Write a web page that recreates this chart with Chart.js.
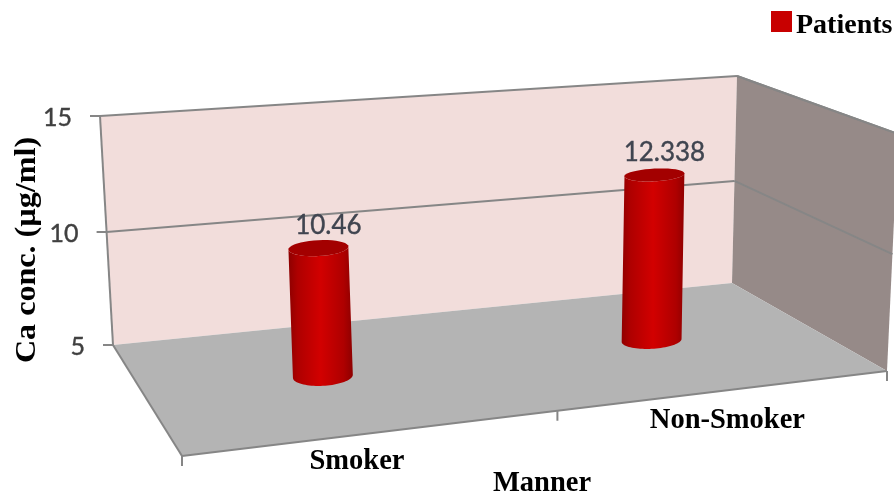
<!DOCTYPE html>
<html>
<head>
<meta charset="utf-8">
<title>Ca conc.</title>
<script src="https://cdn.jsdelivr.net/npm/chart.js@4"></script>
<style>
  html, body { margin: 0; padding: 0; background: #fff; }
  canvas { display: block; }
</style>
</head>
<body>
<canvas id="chart" width="894" height="495"></canvas>
<script>
// chart values
const categories = ["Smoker", "Non-Smoker"];
const patients = [10.46, 12.338];
const seriesName = "Patients";
const xTitle = "Manner";
const yTitle = "Ca conc. (µg/ml)";
const yMin = 5;
const yMax = 15;
const yStep = 5;

// box corners on screen: back-left, back-right, front-right, front-left
const floorQuad = [[113, 345], [732, 283], [887, 371], [182, 456]];
const roofQuad = [[100, 116], [737, 76], [898, 134], [150, 200]];
const barDepth = 0.18; // cylinder diameter along the floor depth
const barRow = 0.5; // bars stand half way between back and front
const barShift = -2; // sideways offset of the bar feet
const barLean = -8; // sideways drift of a bar over the full axis height
const heightFalloff = 1.027; // upper part of the box recedes slightly
const rimSlope = -0.05; // tilt of the cylinder ellipses
const labelShift = [[-19, 29], [0, 30]]; // category labels sit a little off their band centre

const serif = '"Liberation Serif", serif';
const sans = 'Lato, sans-serif';

// perspective map from the unit square onto a quad
function quadMapper(q) {
  const [p0, p1, p2, p3] = q;
  const dx1 = p1[0] - p2[0], dx2 = p3[0] - p2[0], sx = p0[0] - p1[0] + p2[0] - p3[0];
  const dy1 = p1[1] - p2[1], dy2 = p3[1] - p2[1], sy = p0[1] - p1[1] + p2[1] - p3[1];
  const det = dx1 * dy2 - dx2 * dy1;
  const g = (sx * dy2 - dx2 * sy) / det;
  const h = (dx1 * sy - sx * dy1) / det;
  const a = p1[0] - p0[0] + g * p1[0], b = p3[0] - p0[0] + h * p3[0];
  const d = p1[1] - p0[1] + g * p1[1], e = p3[1] - p0[1] + h * p3[1];
  return (u, v) => {
    const w = g * u + h * v + 1;
    return [(a * u + b * v + p0[0]) / w, (d * u + e * v + p0[1]) / w];
  };
}

const floorMap = quadMapper(floorQuad);
const roofMap = quadMapper(roofQuad);

// u: across, v: back to front, t: 0 on the floor, 1 at the top of the axis
function project(u, v, t) {
  const a = floorMap(u, v);
  const b = roofMap(u, v);
  return [a[0] + (b[0] - a[0]) * t, a[1] + (b[1] - a[1]) * t];
}

// centre of a bar's cross-section at height t
function barCentre(u, t) {
  const p = project(u, barRow, t);
  return [p[0] + barShift + barLean * t, p[1]];
}

function fillPoly(ctx, pts, color) {
  ctx.beginPath();
  pts.forEach((p, i) => (i ? ctx.lineTo(p[0], p[1]) : ctx.moveTo(p[0], p[1])));
  ctx.closePath();
  ctx.fillStyle = color;
  ctx.fill();
}

function strokeLine(ctx, a, b, color, width) {
  ctx.beginPath();
  ctx.moveTo(a[0], a[1]);
  ctx.lineTo(b[0], b[1]);
  ctx.strokeStyle = color;
  ctx.lineWidth = width;
  ctx.stroke();
}

// digits are a bit heavier than the regular face
function heavyText(ctx, text, x, y, color) {
  ctx.fillStyle = color;
  ctx.strokeStyle = color;
  ctx.lineWidth = 0.4;
  ctx.fillText(text, x, y);
  ctx.strokeText(text, x, y);
}

function drawBox(ctx, yScale, xCount, heightOf) {
  const lineColor = "#868686";
  fillPoly(ctx, [project(0, 0, 1), project(1, 0, 1), project(1, 0, 0), project(0, 0, 0)], "#f2dddb");
  fillPoly(ctx, [project(1, 0, 1), project(1, 1, 1), project(1, 1, 0), project(1, 0, 0)], "#968a88");
  fillPoly(ctx, [project(0, 0, 0), project(1, 0, 0), project(1, 1, 0), project(0, 1, 0)], "#b4b4b4");

  strokeLine(ctx, project(0, 0, 0), project(0, 0, 1), lineColor, 2);
  strokeLine(ctx, project(0, 0, 0), project(0, 1, 0), lineColor, 2);
  strokeLine(ctx, project(0, 1, 0), project(1, 1, 0), lineColor, 2);
  strokeLine(ctx, project(1, 0, 1), project(1, 1, 1), lineColor, 2);

  // gridlines run along the back and side walls, ticks stick out on the left
  yScale.ticks.forEach((tick) => {
    const t = heightOf(tick.value);
    const start = project(0, 0, t);
    strokeLine(ctx, [start[0] - 10, start[1]], start, lineColor, 2);
    if (t > 0) {
      strokeLine(ctx, start, project(1, 0, t), lineColor, 2);
      strokeLine(ctx, project(1, 0, t), project(1, 1, t), lineColor, 2);
    }

    ctx.font = "25px " + sans;
    ctx.textAlign = "right";
    ctx.textBaseline = "middle";
    heavyText(ctx, String(tick.value), start[0] - 28, start[1] + 2, "#404040");
  });

  // tick marks under the front edge of the floor
  for (let i = 0; i <= xCount; i++) {
    const p = project(i / xCount, 1, 0);
    strokeLine(ctx, p, [p[0], p[1] + 10], lineColor, 2);
  }
}

function drawCylinder(ctx, u, halfWidth, topT) {
  const rim = (t, from, to) => {
    const centre = barCentre(u, t);
    const pts = [];
    for (let i = 0; i <= 40; i++) {
      const a = from + (to - from) * (i / 40);
      const depthY = project(u, barRow + (barDepth / 2) * Math.sin(a), t)[1];
      pts.push([centre[0] + halfWidth * Math.cos(a), depthY + halfWidth * rimSlope * Math.cos(a)]);
    }
    return pts;
  };
  const midX = (barCentre(u, 0)[0] + barCentre(u, topT)[0]) / 2;
  const grad = ctx.createLinearGradient(midX - halfWidth - 2, 0, midX + halfWidth + 2, 0);
  grad.addColorStop(0, "#8e0000");
  grad.addColorStop(0.14, "#ae0000");
  grad.addColorStop(0.5, "#d20000");
  grad.addColorStop(0.86, "#ae0000");
  grad.addColorStop(1, "#8e0000");

  // body: front half of the base ellipse up to the front half of the cap
  fillPoly(ctx, rim(0, 0, Math.PI).concat(rim(topT, Math.PI, 0)), grad);
  fillPoly(ctx, rim(topT, 0, Math.PI * 2), "#a30000");
}

const box3d = {
  id: "box3d",
  beforeDatasetsDraw(chart) {
    const { ctx, scales, chartArea } = chart;
    const x = scales.x;
    const y = scales.y;
    const heightOf = (value) => {
      const t = (y.bottom - y.getPixelForValue(value)) / (y.bottom - y.top);
      return t / (t + heightFalloff * (1 - t));
    };
    const areaWidth = chartArea.right - chartArea.left;

    ctx.save();
    drawBox(ctx, y, categories.length, heightOf);

    chart.getDatasetMeta(0).data.forEach((bar, i) => {
      const u = (bar.x - chartArea.left) / areaWidth;
      const t = heightOf(patients[i]);
      drawCylinder(ctx, u, bar.width / 2, t);

      // value label above the cap
      const top = barCentre(u, t);
      ctx.font = "26px " + sans;
      ctx.textAlign = "center";
      ctx.textBaseline = "middle";
      heavyText(ctx, String(patients[i]), top[0] + 10, top[1] - 22, "#404550");

      // category label below the front edge
      const front = project(u, 1, 0);
      ctx.font = "bold 28.5px " + serif;
      ctx.fillStyle = "#000";
      ctx.fillText(x.getLabelForValue(i), front[0] + labelShift[i][0], front[1] + labelShift[i][1]);
    });

    // axis titles
    ctx.font = "bold 28.5px " + serif;
    ctx.fillStyle = "#000";
    ctx.textAlign = "center";
    ctx.textBaseline = "middle";
    ctx.fillText(xTitle, 542, 484);

    ctx.save();
    ctx.translate(27, 250);
    ctx.rotate(-Math.PI / 2);
    ctx.scale(1.07, 1);
    ctx.font = "bold 30px " + serif;
    ctx.fillText(yTitle, 0, 0);
    ctx.restore();

    // legend
    ctx.fillStyle = chart.data.datasets[0].backgroundColor;
    ctx.fillRect(771, 11, 21, 21);
    ctx.fillStyle = "#000";
    ctx.textAlign = "left";
    ctx.font = "bold 28px " + serif;
    ctx.fillText(chart.data.datasets[0].label, 796, 26);
    ctx.restore();

    return false; // the cylinders replace the flat bars
  },
};

new Chart(document.getElementById("chart"), {
  type: "bar",
  data: {
    labels: categories,
    datasets: [
      {
        label: seriesName,
        data: patients,
        backgroundColor: "#c80000",
        barPercentage: 0.134,
        categoryPercentage: 1,
      },
    ],
  },
  options: {
    responsive: false,
    animation: false,
    plugins: { legend: { display: false }, tooltip: { enabled: false } },
    scales: {
      x: { display: false },
      y: { display: false, min: yMin, max: yMax, ticks: { stepSize: yStep } },
    },
  },
  plugins: [box3d],
});
</script>
</body>
</html>
